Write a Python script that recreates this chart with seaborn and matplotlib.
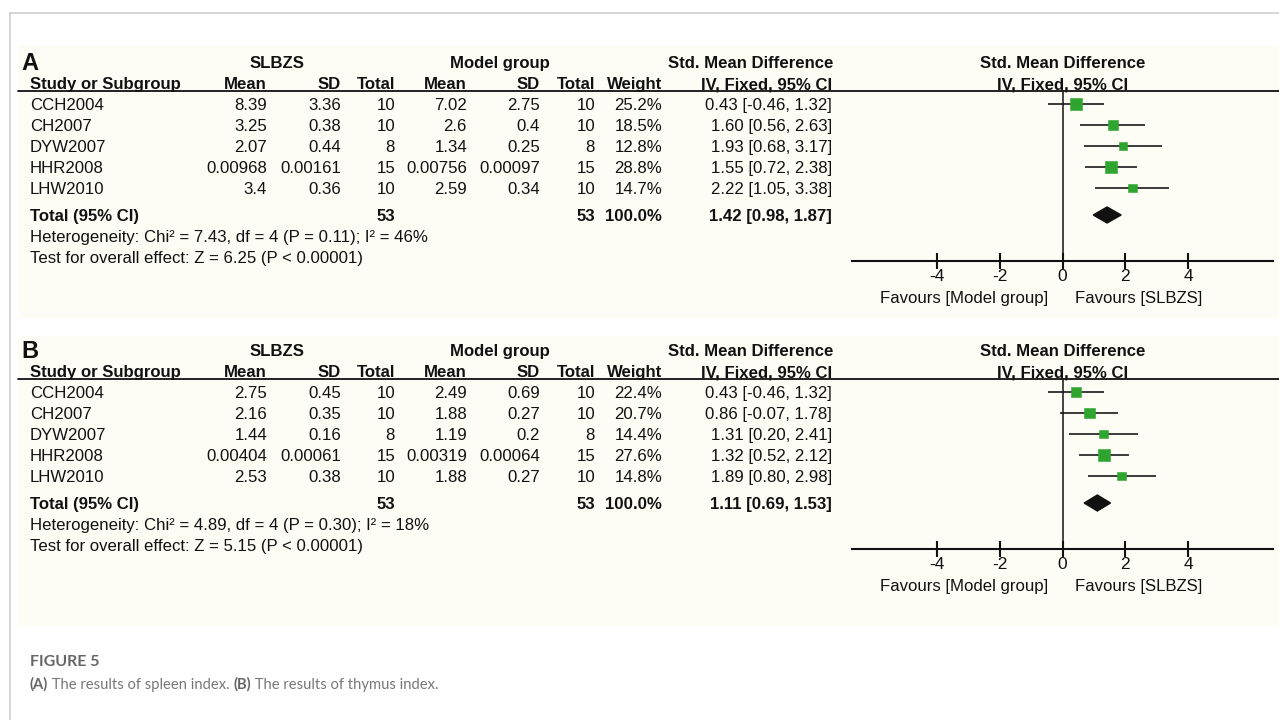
import matplotlib
matplotlib.use("Agg")
import matplotlib.pyplot as plt
import seaborn as sns
import pandas as pd
from matplotlib.patches import Rectangle

# ---------------------------------------------------------------- data
studies = ["CCH2004", "CH2007", "DYW2007", "HHR2008", "LHW2010"]

# (A) spleen index
a_slbzs_mean = [8.39, 3.25, 2.07, 0.00968, 3.4]
a_slbzs_sd = [3.36, 0.38, 0.44, 0.00161, 0.36]
a_slbzs_n = [10, 10, 8, 15, 10]
a_model_mean = [7.02, 2.6, 1.34, 0.00756, 2.59]
a_model_sd = [2.75, 0.4, 0.25, 0.00097, 0.34]
a_model_n = [10, 10, 8, 15, 10]
a_weight = [25.2, 18.5, 12.8, 28.8, 14.7]
a_smd = [0.43, 1.60, 1.93, 1.55, 2.22]
a_lo = [-0.46, 0.56, 0.68, 0.72, 1.05]
a_hi = [1.32, 2.63, 3.17, 2.38, 3.38]
a_total = [1.42, 0.98, 1.87]
a_total_weight = 100.0
a_het = "Heterogeneity: Chi² = 7.43, df = 4 (P = 0.11); I² = 46%"
a_test = "Test for overall effect: Z = 6.25 (P < 0.00001)"

# (B) thymus index
b_slbzs_mean = [2.75, 2.16, 1.44, 0.00404, 2.53]
b_slbzs_sd = [0.45, 0.35, 0.16, 0.00061, 0.38]
b_slbzs_n = [10, 10, 8, 15, 10]
b_model_mean = [2.49, 1.88, 1.19, 0.00319, 1.88]
b_model_sd = [0.69, 0.27, 0.2, 0.00064, 0.27]
b_model_n = [10, 10, 8, 15, 10]
b_weight = [22.4, 20.7, 14.4, 27.6, 14.8]
b_smd = [0.43, 0.86, 1.31, 1.32, 1.89]
b_lo = [-0.46, -0.07, 0.20, 0.52, 0.80]
b_hi = [1.32, 1.78, 2.41, 2.12, 2.98]
b_total = [1.11, 0.69, 1.53]
b_total_weight = 100.0
b_het = "Heterogeneity: Chi² = 4.89, df = 4 (P = 0.30); I² = 18%"
b_test = "Test for overall effect: Z = 5.15 (P < 0.00001)"

xticks = [-4, -2, 0, 2, 4]

# ---------------------------------------------------------------- style
sns.set_theme(style="white")
plt.rcParams["font.family"] = ["Liberation Sans", "DejaVu Sans"]

W, H = 1279, 720
fig = plt.figure(figsize=(W / 100, H / 100), dpi=100)
fig.patch.set_facecolor("white")

bg = fig.add_axes([0, 0, 1, 1])
bg.set_xlim(0, W)
bg.set_ylim(H, 0)
bg.axis("off")

# page frame
bg.plot([10, 10], [13, H], color="#cfcfcf", lw=1.2)
bg.plot([10, W], [13, 13], color="#cfcfcf", lw=1.2)

FS = 12.1
INK = "#111111"
GREEN = "#2fa52f"
BASE = 6  # px from a row's centre to its text baseline

ROW0, DROW = 104, 21          # first study row and row spacing (px)
TOTAL_K = (215 - ROW0) / DROW  # row index of the pooled estimate
AX_TOP, AX_BOT = 91, 261      # forest area limits (px)
ZERO_X, UNIT = 1062.5, 31.375  # px position of 0 and px per SMD unit
XLIM = 6.7


def fmt(v):
    return f"{v:g}"


def row_y(y0, k):
    return y0 + ROW0 + DROW * k


def put(x, y, s, ha="left", bold=False, **kw):
    bg.text(x, y + BASE, s, ha=ha, va="baseline", fontsize=kw.pop("fontsize", FS),
            color=kw.pop("color", INK), fontweight="bold" if bold else "normal", **kw)


def panel(y0, letter, s_mean, s_sd, s_n, m_mean, m_sd, m_n, weight, total_w,
          smd, lo, hi, total, het, test, cream):
    bg.add_patch(Rectangle((18, cream[0]), W - 18, cream[1] - cream[0],
                           facecolor="#fdfdf6", edgecolor="none", zorder=0))
    put(21, y0 + 64, letter, bold=True, fontsize=17)
    # group headers
    hy1 = y0 + 62
    put(277, hy1, "SLBZS", ha="center", bold=True)
    put(500, hy1, "Model group", ha="center", bold=True)
    put(751, hy1, "Std. Mean Difference", ha="center", bold=True)
    put(1063, hy1, "Std. Mean Difference", ha="center", bold=True)
    # column headers
    hy = y0 + 83
    put(30, hy, "Study or Subgroup", bold=True)
    cols = [(267, "Mean"), (341, "SD"), (395, "Total"), (467, "Mean"),
            (540, "SD"), (595, "Total"), (662, "Weight"), (832, "IV, Fixed, 95% CI")]
    for x, s in cols:
        put(x, hy, s, ha="right", bold=True)
    put(1063, hy, "IV, Fixed, 95% CI", ha="center", bold=True)
    bg.plot([18, W], [y0 + AX_TOP, y0 + AX_TOP], color=INK, lw=1.3, zorder=3)

    # study rows
    for k, name in enumerate(studies):
        y = row_y(y0, k)
        vals = [fmt(s_mean[k]), fmt(s_sd[k]), str(s_n[k]), fmt(m_mean[k]),
                fmt(m_sd[k]), str(m_n[k]), f"{weight[k]:.1f}%",
                f"{smd[k]:.2f} [{lo[k]:.2f}, {hi[k]:.2f}]"]
        put(30, y, name)
        for (x, _), v in zip(cols, vals):
            put(x, y, v, ha="right")

    # pooled row
    yt = row_y(y0, TOTAL_K)
    put(30, yt, "Total (95% CI)", bold=True)
    put(395, yt, str(sum(s_n)), ha="right", bold=True)
    put(595, yt, str(sum(m_n)), ha="right", bold=True)
    put(662, yt, f"{total_w:.1f}%", ha="right", bold=True)
    put(832, yt, f"{total[0]:.2f} [{total[1]:.2f}, {total[2]:.2f}]", ha="right", bold=True)
    put(30, y0 + 236, het)
    put(30, y0 + 257, test)

    # forest plot
    left = ZERO_X - XLIM * UNIT
    ax = fig.add_axes([left / W, 1 - (y0 + AX_BOT) / H,
                       2 * XLIM * UNIT / W, (AX_BOT - AX_TOP) / H])
    ax.set_facecolor("none")
    k_top = (AX_TOP - ROW0) / DROW
    k_bot = (AX_BOT - ROW0) / DROW
    ax.set_xlim(-XLIM, XLIM)
    ax.set_ylim(k_bot, k_top)
    ax.axvline(0, color=INK, lw=1.1, zorder=1)
    rows = list(range(len(studies)))
    ax.hlines(rows, lo, hi, color="#1a1a1a", lw=1.2, zorder=2)
    df = pd.DataFrame({"smd": smd, "row": rows, "weight": weight})
    wmin, wmax = min(weight), max(weight)
    area = 2.7  # marker area (pt^2) per percent of weight
    sns.scatterplot(data=df, x="smd", y="row", size="weight",
                    sizes=(area * wmin, area * wmax), size_norm=(wmin, wmax),
                    marker="s", color=GREEN, edgecolor=GREEN, linewidth=0.4,
                    legend=False, zorder=3, ax=ax)
    dh = 8 / DROW
    ax.fill([total[1], total[0], total[2], total[0]],
            [TOTAL_K, TOTAL_K - dh, TOTAL_K, TOTAL_K + dh],
            color="#111111", zorder=3)
    for side in ["left", "right", "top"]:
        ax.spines[side].set_visible(False)
    ax.spines["bottom"].set_color(INK)
    ax.spines["bottom"].set_linewidth(1.5)
    ax.set_xticks(xticks)
    ax.set_xticklabels([str(v) for v in xticks])
    ax.set_yticks([])
    ax.tick_params(axis="x", direction="inout", length=11, width=1.5,
                   colors=INK, labelsize=12.5, pad=0.5, bottom=True)
    ax.set_xlabel("")
    ax.set_ylabel("")
    ax.grid(False)
    xt = ax.get_xaxis_transform()
    ax.text(-0.45, -0.245, "Favours [Model group]", transform=xt,
            ha="right", va="baseline", fontsize=FS, color=INK)
    ax.text(0.4, -0.245, "Favours [SLBZS]", transform=xt,
            ha="left", va="baseline", fontsize=FS, color=INK)
    ax.get_yaxis().set_visible(False)


panel(0, "A", a_slbzs_mean, a_slbzs_sd, a_slbzs_n, a_model_mean, a_model_sd,
      a_model_n, a_weight, a_total_weight, a_smd, a_lo, a_hi, a_total,
      a_het, a_test, (45, 318))
panel(288, "B", b_slbzs_mean, b_slbzs_sd, b_slbzs_n, b_model_mean, b_model_sd,
      b_model_n, b_weight, b_total_weight, b_smd, b_lo, b_hi, b_total,
      b_het, b_test, (336, 625))

# caption, laid out piece by piece
cap = ["Lato", "DejaVu Sans"]
renderer = fig.canvas.get_renderer()
bg.text(30, 666, "FIGURE 5", fontsize=11.5, fontweight="bold", color="#666666",
        va="baseline", family=cap)
x = 30
pieces = [("(A)", "bold"), (" The results of spleen index. ", "normal"),
          ("(B)", "bold"), (" The results of thymus index.", "normal")]
for s, wt in pieces:
    tx = bg.text(x, 689, s, fontsize=10.6, fontweight=wt,
                 color="#666666" if wt == "bold" else "#777777",
                 va="baseline", family=cap)
    x += tx.get_window_extent(renderer).width

fig.savefig("out.png", dpi=100)
